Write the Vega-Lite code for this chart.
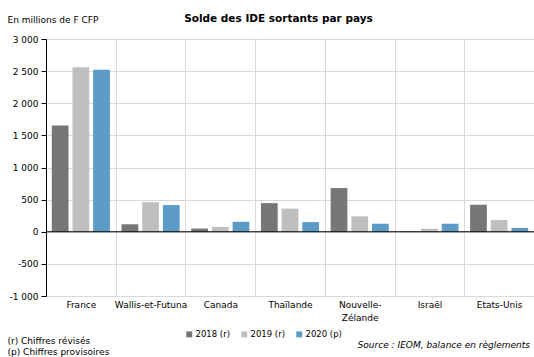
{
  "$schema": "https://vega.github.io/schema/vega-lite/v6.json",
  "width": 488,
  "height": 257,
  "autosize": {"type": "none"},
  "padding": {"left": 46, "top": 39, "right": 0, "bottom": 61},
  "background": "white",
  "config": {
    "font": "DejaVu Sans",
    "view": {"stroke": null},
    "axis": {
      "labelFont": "DejaVu Sans",
      "labelFontSize": 9,
      "labelColor": "#000",
      "titleFont": "DejaVu Sans",
      "titleFontSize": 9,
      "titleFontWeight": "normal",
      "titleColor": "#000",
      "gridColor": "#d9d9d9",
      "gridWidth": 1
    }
  },
  "title": {
    "text": "Solde des IDE sortants par pays",
    "fontSize": 10.5,
    "fontWeight": "bold",
    "font": "DejaVu Sans",
    "color": "#000",
    "anchor": "middle",
    "baseline": "alphabetic",
    "dx": -11.5,
    "offset": -17
  },
  "data": {
    "values": [
      {"pays": "France", "serie": "2018 (r)", "valeur": 1655},
      {"pays": "France", "serie": "2019 (r)", "valeur": 2560},
      {"pays": "France", "serie": "2020 (p)", "valeur": 2520},
      {"pays": "Wallis-et-Futuna", "serie": "2018 (r)", "valeur": 115},
      {"pays": "Wallis-et-Futuna", "serie": "2019 (r)", "valeur": 460},
      {"pays": "Wallis-et-Futuna", "serie": "2020 (p)", "valeur": 415},
      {"pays": "Canada", "serie": "2018 (r)", "valeur": 50},
      {"pays": "Canada", "serie": "2019 (r)", "valeur": 75},
      {"pays": "Canada", "serie": "2020 (p)", "valeur": 155},
      {"pays": "Thaïlande", "serie": "2018 (r)", "valeur": 445},
      {"pays": "Thaïlande", "serie": "2019 (r)", "valeur": 360},
      {"pays": "Thaïlande", "serie": "2020 (p)", "valeur": 150},
      {"pays": "Nouvelle-Zélande", "serie": "2018 (r)", "valeur": 680},
      {"pays": "Nouvelle-Zélande", "serie": "2019 (r)", "valeur": 240},
      {"pays": "Nouvelle-Zélande", "serie": "2020 (p)", "valeur": 125},
      {"pays": "Israël", "serie": "2018 (r)", "valeur": 4},
      {"pays": "Israël", "serie": "2019 (r)", "valeur": 47},
      {"pays": "Israël", "serie": "2020 (p)", "valeur": 125},
      {"pays": "Etats-Unis", "serie": "2018 (r)", "valeur": 420},
      {"pays": "Etats-Unis", "serie": "2019 (r)", "valeur": 182},
      {"pays": "Etats-Unis", "serie": "2020 (p)", "valeur": 58}
    ]
  },
  "layer": [
    {
      "mark": {"type": "bar"},
      "encoding": {
        "x": {
          "field": "pays",
          "type": "nominal",
          "sort": null,
          "scale": {"paddingInner": 0, "paddingOuter": 0},
          "axis": {
            "orient": "bottom",
            "domain": false,
            "ticks": false,
            "grid": true,
            "tickBand": "extent",
            "labelAngle": 0,
            "labelPadding": 4,
            "labelLimit": 0,
            "labelLineHeight": 13,
            "labelExpr": "datum.value == 'Nouvelle-Zélande' ? ['Nouvelle-', 'Zélande'] : datum.value",
            "title": ["(r) Chiffres révisés", "(p) Chiffres provisoires"],
            "titleAlign": "left",
            "titleAnchor": "start",
            "titleBaseline": "top",
            "titleX": -39,
            "titleY": 40,
            "titleLineHeight": 11.5
          }
        },
        "xOffset": {
          "field": "serie",
          "sort": null,
          "scale": {"paddingInner": 0.19, "paddingOuter": 0.28}
        },
        "y": {
          "field": "valeur",
          "type": "quantitative",
          "scale": {"domain": [-1000, 3000], "nice": false, "zero": false},
          "axis": {
            "values": [-1000, -500, 0, 500, 1000, 1500, 2000, 2500, 3000],
            "labelOverlap": false,
            "labelExpr": "replace(replace(format(datum.value, ','), ',', ' '), '−', '-')",
            "domainColor": "#000",
            "tickColor": "#000",
            "tickSize": 5,
            "labelPadding": 3,
            "grid": true,
            "title": "En millions de F CFP",
            "titleAngle": 0,
            "titleAlign": "left",
            "titleBaseline": "middle",
            "titleX": -39,
            "titleY": -20
          }
        },
        "color": {
          "field": "serie",
          "type": "nominal",
          "sort": null,
          "scale": {"domain": ["2018 (r)", "2019 (r)", "2020 (p)"], "range": ["#777777", "#bfbfbf", "#5b9bc5"]},
          "legend": {
            "orient": "none",
            "legendX": 139,
            "legendY": 291,
            "padding": 0,
            "direction": "horizontal",
            "title": null,
            "symbolType": "square",
            "symbolSize": 36,
            "symbolStrokeWidth": 0,
            "labelFontSize": 8.5,
            "labelColor": "#000",
            "labelFont": "DejaVu Sans",
            "labelOffset": 2,
            "columnPadding": 10
          }
        }
      }
    },
    {
      "data": {"values": [{}]},
      "mark": {"type": "rule", "color": "#000", "strokeWidth": 1},
      "encoding": {
        "y": {
          "datum": 0,
          "type": "quantitative",
          "axis": {
            "values": [-1000, -500, 0, 500, 1000, 1500, 2000, 2500, 3000],
            "labelOverlap": false,
            "labelExpr": "replace(replace(format(datum.value, ','), ',', ' '), '−', '-')",
            "domainColor": "#000",
            "tickColor": "#000",
            "tickSize": 5,
            "labelPadding": 3,
            "grid": true,
            "title": "En millions de F CFP",
            "titleAngle": 0,
            "titleAlign": "left",
            "titleBaseline": "middle",
            "titleX": -39,
            "titleY": -20
          }
        }
      }
    },
    {
      "data": {"values": [{"source": "Source : IEOM, balance en règlements"}]},
      "mark": {"type": "text", "align": "right", "baseline": "middle", "fontStyle": "italic", "fontSize": 9, "font": "DejaVu Sans", "color": "#000", "dx": -4, "dy": 49},
      "encoding": {
        "x": {"datum": "Etats-Unis", "bandPosition": 1},
        "y": {
          "datum": -1000,
          "type": "quantitative",
          "axis": {
            "values": [-1000, -500, 0, 500, 1000, 1500, 2000, 2500, 3000],
            "labelOverlap": false,
            "labelExpr": "replace(replace(format(datum.value, ','), ',', ' '), '−', '-')",
            "domainColor": "#000",
            "tickColor": "#000",
            "tickSize": 5,
            "labelPadding": 3,
            "grid": true,
            "title": "En millions de F CFP",
            "titleAngle": 0,
            "titleAlign": "left",
            "titleBaseline": "middle",
            "titleX": -39,
            "titleY": -20
          }
        },
        "text": {"field": "source"}
      }
    }
  ]
}
